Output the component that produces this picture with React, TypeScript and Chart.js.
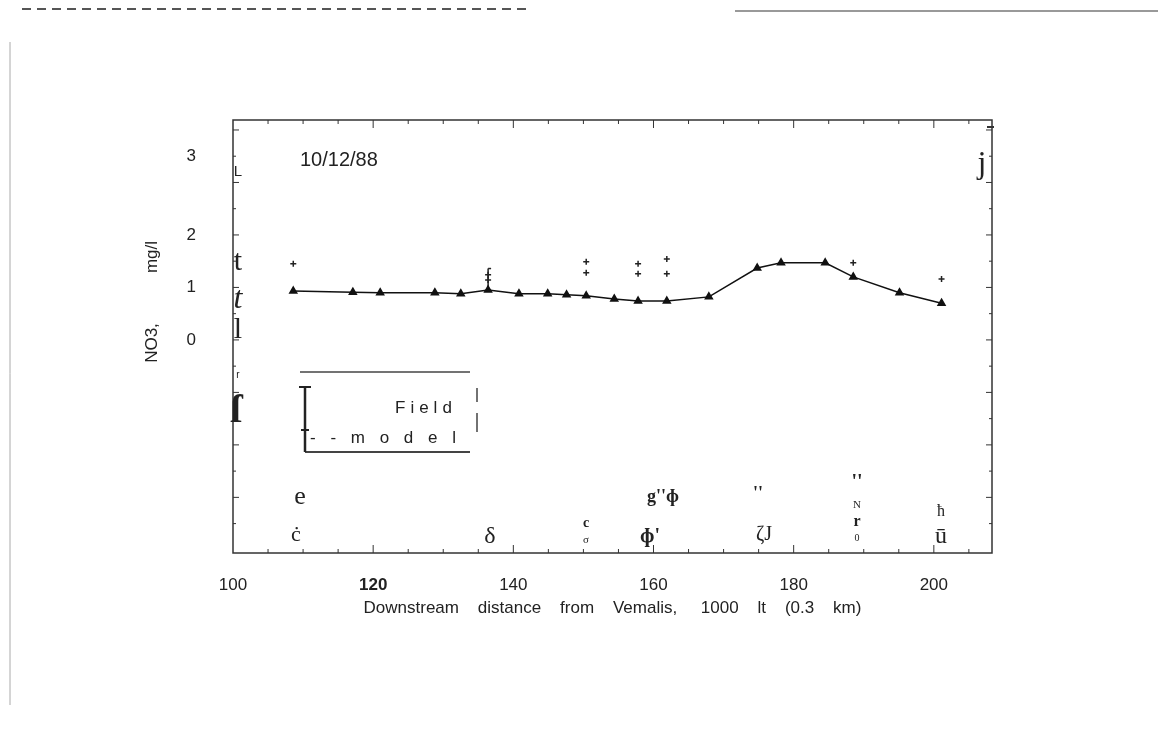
import React, { useEffect, useRef } from 'react';
import { Chart, registerables } from 'chart.js';

Chart.register(...registerables);

// ---- data ----
const modelX = [108.6, 117.1, 121.0, 128.8, 132.5, 136.4, 140.8, 144.9, 147.6, 150.4, 154.4, 157.8, 161.9, 167.9, 174.8, 178.2, 184.5, 188.5, 195.1, 201.1];
const modelY = [0.93, 0.91, 0.90, 0.90, 0.88, 0.95, 0.88, 0.88, 0.86, 0.84, 0.78, 0.74, 0.74, 0.82, 1.37, 1.47, 1.47, 1.20, 0.90, 0.70];
const fieldX = [108.6, 136.4, 136.4, 150.4, 150.4, 157.8, 157.8, 161.9, 161.9, 188.5, 201.1];
const fieldY = [1.45, 1.24, 1.14, 1.49, 1.28, 1.45, 1.26, 1.54, 1.26, 1.47, 1.16];
const errX = [136.4, 136.4];
const errY = [1.36, 0.95];
const xTickValues = [100, 120, 140, 160, 180, 200];
const yTickValues = [0, 1, 2, 3.5];
const yTickLabels = ['0', '1', '2', '3'];
const dateLabel = '10/12/88';
const xTitle = 'Downstream    distance    from    Vemalis,     1000    lt    (0.3    km)';
const yTitleParts = ['NO3,', 'mg/l'];
const legendLabels = ['Field', '- - m o d e l'];

const SANS = '"Liberation Sans", Arial, sans-serif';
const SERIF = '"Liberation Serif", "DejaVu Serif", serif';

const decor = {
  id: 'decor',
  afterDraw(chart: any) {
    const ctx: CanvasRenderingContext2D = chart.ctx;
    const { left, right, top, bottom } = chart.chartArea;
    const xs = chart.scales.x;
    const ys = chart.scales.y;
    ctx.save();

    // page artifacts
    ctx.strokeStyle = '#555';
    ctx.lineWidth = 2;
    ctx.setLineDash([9, 6]);
    ctx.beginPath(); ctx.moveTo(22, 9); ctx.lineTo(528, 9); ctx.stroke();
    ctx.setLineDash([]);
    ctx.strokeStyle = '#777';
    ctx.lineWidth = 1.5;
    ctx.beginPath(); ctx.moveTo(735, 11); ctx.lineTo(1158, 11); ctx.stroke();
    ctx.strokeStyle = '#aaa';
    ctx.lineWidth = 1;
    ctx.beginPath(); ctx.moveTo(10, 42); ctx.lineTo(10, 705); ctx.stroke();

    // frame
    ctx.strokeStyle = '#333';
    ctx.lineWidth = 1.5;
    ctx.strokeRect(left, top, right - left, bottom - top);

    // x ticks (top and bottom, inward)
    ctx.lineWidth = 1;
    for (let v = 105; v <= 205; v += 5) {
      const px = xs.getPixelForValue(v);
      const len = v % 20 === 0 ? 8 : 4;
      ctx.beginPath();
      ctx.moveTo(px, top); ctx.lineTo(px, top + len);
      ctx.moveTo(px, bottom); ctx.lineTo(px, bottom - len);
      ctx.stroke();
    }
    // y ticks (left and right, inward)
    for (let v = -3.5; v <= 4; v += 0.5) {
      const py = ys.getPixelForValue(v);
      const len = Number.isInteger(v) ? 6 : 3;
      ctx.beginPath();
      ctx.moveTo(left, py); ctx.lineTo(left + len, py);
      ctx.moveTo(right, py); ctx.lineTo(right - len, py);
      ctx.stroke();
    }
    ctx.lineWidth = 2;
    ctx.beginPath(); ctx.moveTo(987, 127); ctx.lineTo(994, 127); ctx.stroke();

    // y title
    ctx.fillStyle = '#222';
    ctx.font = `17px ${SANS}`;
    ctx.textAlign = 'center';
    ctx.textBaseline = 'middle';
    ctx.save(); ctx.translate(152, 343); ctx.rotate(-Math.PI / 2); ctx.fillText(yTitleParts[0], 0, 0); ctx.restore();
    ctx.save(); ctx.translate(152, 257); ctx.rotate(-Math.PI / 2); ctx.fillText(yTitleParts[1], 0, 0); ctx.restore();

    // date label
    ctx.font = `20px ${SANS}`;
    ctx.textAlign = 'left';
    ctx.fillText(dateLabel, 300, 160);

    // legend box
    ctx.strokeStyle = '#444';
    ctx.lineWidth = 1.5;
    ctx.beginPath(); ctx.moveTo(300, 372); ctx.lineTo(470, 372); ctx.stroke();
    ctx.lineWidth = 2;
    ctx.beginPath(); ctx.moveTo(305, 452); ctx.lineTo(470, 452); ctx.stroke();
    ctx.lineWidth = 1.5;
    ctx.beginPath(); ctx.moveTo(477, 388); ctx.lineTo(477, 402); ctx.moveTo(477, 413); ctx.lineTo(477, 432); ctx.stroke();
    // error-bar symbol
    ctx.strokeStyle = '#222';
    ctx.lineWidth = 2.5;
    ctx.beginPath(); ctx.moveTo(305, 387); ctx.lineTo(305, 452); ctx.stroke();
    ctx.lineWidth = 2;
    ctx.beginPath(); ctx.moveTo(299, 387); ctx.lineTo(311, 387); ctx.moveTo(301, 430); ctx.lineTo(309, 430); ctx.stroke();
    ctx.font = `17px ${SANS}`;
    (ctx as any).letterSpacing = '5px';
    ctx.fillText(legendLabels[0], 395, 408);
    ctx.fillText(legendLabels[1], 310, 438);
    (ctx as any).letterSpacing = '0px';

    // scanned glyph remnants
    const glyphs: [string, number, number, string][] = [
      ['L', 238, 172, `15px ${SANS}`],
      ['t', 238, 262, `30px ${SERIF}`],
      ['t', 238, 300, `italic 32px ${SERIF}`],
      ['l', 238, 330, `30px ${SERIF}`],
      ['r', 238, 375, `10px ${SANS}`],
      ['ſ', 236, 412, `bold 40px ${SERIF}`],
      ['j', 982, 165, `32px ${SERIF}`],
      ['e', 300, 497, `26px ${SERIF}`],
      ['ċ', 296, 535, `22px ${SERIF}`],
      ['δ', 490, 537, `24px ${SERIF}`],
      ['c', 586, 523, `bold 14px ${SERIF}`],
      ['σ', 586, 540, `11px ${SERIF}`],
      ["g''ɸ", 663, 497, `bold 18px ${SERIF}`],
      ["ɸ'", 650, 537, `bold 20px ${SERIF}`],
      ["''", 758, 494, `bold 18px ${SERIF}`],
      ['ζJ', 764, 535, `20px ${SERIF}`],
      ["''", 857, 483, `bold 20px ${SERIF}`],
      ['N', 857, 505, `11px ${SERIF}`],
      ['r', 857, 522, `bold 16px ${SERIF}`],
      ['0', 857, 538, `10px ${SERIF}`],
      ['ħ', 941, 512, `16px ${SERIF}`],
      ['ū', 941, 537, `24px ${SERIF}`],
    ];
    ctx.textAlign = 'center';
    ctx.fillStyle = '#222';
    for (const [t, x, y, f] of glyphs) {
      ctx.font = f;
      ctx.fillText(t, x, y);
    }
    ctx.restore();
  },
};

export default function App() {
  const ref = useRef<HTMLCanvasElement>(null);
  useEffect(() => {
    if (!ref.current) return;
    const chart = new Chart(ref.current, {
      type: 'scatter',
      data: {
        datasets: [
          {
            label: 'model',
            data: modelX.map((x, i) => ({ x, y: modelY[i] })),
            showLine: true,
            borderColor: '#111',
            backgroundColor: '#111',
            borderWidth: 1.5,
            pointStyle: 'triangle',
            pointRadius: 4,
            tension: 0,
          },
          {
            label: 'Field',
            data: fieldX.map((x, i) => ({ x, y: fieldY[i] })),
            borderColor: '#222',
            backgroundColor: '#222',
            pointStyle: 'cross',
            pointRadius: 3,
            borderWidth: 1.5,
          },
          {
            label: 'err',
            data: errX.map((x, i) => ({ x, y: errY[i] })),
            showLine: true,
            borderColor: '#222',
            borderWidth: 1.5,
            pointStyle: 'dash',
            pointRadius: 3,
          },
        ],
      },
      options: {
        animation: false,
        responsive: false,
        layout: { padding: { left: 0, top: 120, right: 166, bottom: 0 } },
        plugins: { legend: { display: false }, tooltip: { enabled: false } },
        scales: {
          x: {
            type: 'linear',
            min: 100,
            max: 208.3,
            grid: { display: false },
            border: { display: false },
            afterBuildTicks: (s: any) => { s.ticks = xTickValues.map((v) => ({ value: v })); },
            afterFit: (s: any) => { s.height = 178; },
            ticks: {
              color: '#222',
              padding: 14,
              maxRotation: 0,
              font: (c: any) => ({ family: SANS, size: 17, weight: c.tick && c.tick.value === 120 ? 'bold' : 'normal' }),
              callback: (v: any) => String(v),
            },
            title: {
              display: true,
              text: xTitle,
              color: '#222',
              font: { family: SANS, size: 17 },
              padding: { top: 0, bottom: 112 },
            },
          },
          y: {
            type: 'linear',
            min: -4.06,
            max: 4.19,
            grid: { display: false },
            border: { display: false },
            afterBuildTicks: (s: any) => { s.ticks = yTickValues.map((v) => ({ value: v })); },
            afterFit: (s: any) => { s.width = 233; },
            ticks: {
              color: '#222',
              padding: 29,
              font: { family: SANS, size: 17 },
              callback: (_v: any, i: number) => yTickLabels[i],
            },
          },
        },
      },
      plugins: [decor],
    });
    return () => chart.destroy();
  }, []);
  return (
    <div style={{ position: 'fixed', left: 0, top: 0, width: 1158, height: 731, background: '#fff' }}>
      <canvas ref={ref} width={1158} height={731} style={{ width: 1158, height: 731 }} />
    </div>
  );
}
